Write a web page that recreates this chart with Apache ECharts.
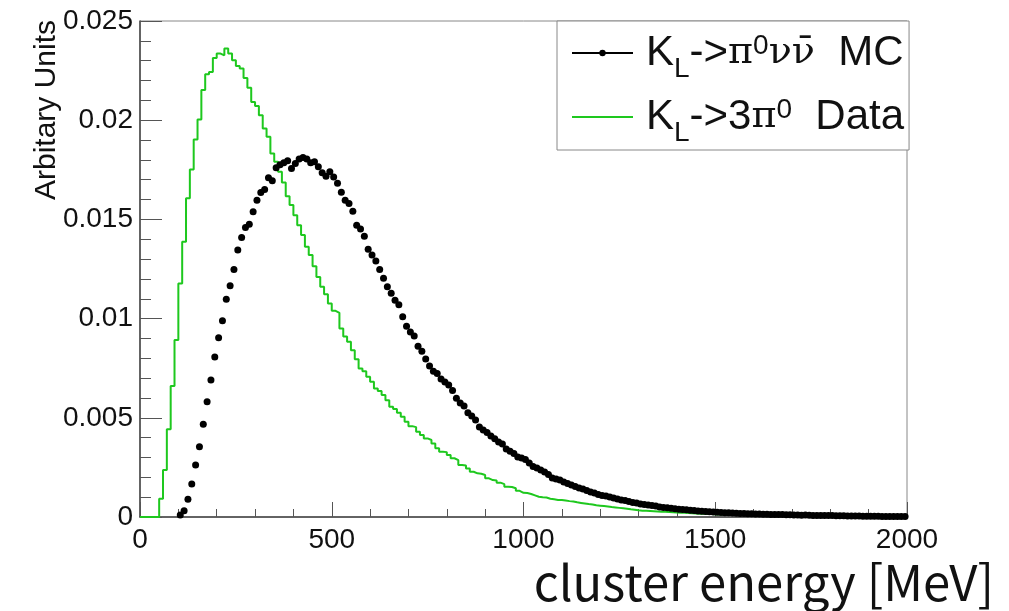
<!DOCTYPE html>
<html><head><meta charset="utf-8">
<script src="https://cdn.jsdelivr.net/npm/echarts@6/dist/echarts.min.js"></script>
<style>html,body{margin:0;padding:0;background:#fff}#c{width:1009px;height:611px}</style>
</head><body><div id="c"></div>
<script>
// Histogram binning: 200 bins of 10 MeV from 0 to 2000 MeV
const binWidth = 10;
const xMin = 0, xMax = 2000, xStep = 500;
const yMin = 0, yMax = 0.025, yStep = 0.005;

const seriesNames = ['KL->pi0nunubar MC', 'KL->3pi0 Data'];
const xTitle = 'cluster energy [MeV]';
const yTitle = 'Arbitary Units';

// K_L -> 3pi0 Data (green histogram), bin contents, bins 0..199
const dataValues = [
0,0,0,0,0,0.00092,0.00237,0.00442,0.0066,0.00892,
0.01177,0.01387,0.01606,0.01751,0.01903,0.02004,0.02152,0.02232,0.02243,0.02314,
0.02336,0.02327,0.02361,0.02336,0.02302,0.02273,0.0226,0.02213,0.02163,0.02092,
0.02072,0.02025,0.01958,0.01916,0.01832,0.01791,0.0174,0.01686,0.01617,0.01572,
0.01521,0.01471,0.01421,0.01362,0.0132,0.01264,0.0121,0.0116,0.01123,0.01076,
0.01039,0.01029,0.0095,0.0091,0.00883,0.00841,0.00795,0.00749,0.00735,0.00707,
0.00682,0.00648,0.00635,0.00615,0.00589,0.00556,0.00544,0.00525,0.00505,0.0048,
0.00458,0.00453,0.0043,0.00413,0.00396,0.00388,0.00371,0.00346,0.00329,0.00327,
0.00312,0.00296,0.00287,0.00262,0.0026,0.00245,0.00228,0.0022,0.00218,0.00212,
0.00195,0.00186,0.00184,0.00173,0.00166,0.00153,0.00151,0.00145,0.00132,0.00122,
0.00121,0.00116,0.00109,0.00102,0.00099,0.00098,0.00092,0.00089,0.00086,0.00086,
0.00083,0.0008,0.00078,0.00074,0.00071,0.00068,0.00065,0.00063,0.00059,0.00057,
0.00055,0.00053,0.0005,0.00048,0.00046,0.00044,0.00042,0.00039,0.00037,0.00034,
0.00032,0.00031,0.0003,0.00029,0.00028,0.00027,0.00026,0.00025,0.00024,0.00023,
0.00022,0.00021,0.0002,0.00019,0.00018,0.00017,0.00016,0.00015,0.00015,0.00014,
0.00013,0.00013,0.00012,0.00011,0.00011,0.0001,0.0001,0.0001,0.00009,0.00009,
0.00009,0.00008,0.00008,0.00008,0.00007,0.00007,0.00007,0.00006,0.00006,0.00006,
0.00006,0.00005,0.00005,0.00005,0.00005,0.00004,0.00004,0.00004,0.00004,0.00004,
0.00003,0.00003,0.00003,0.00003,0.00003,0.00003,0.00003,0.00002,0.00002,0.00002,
0.00002,0.00002,0.00002,0.00002,0.00002,0.00002,0.00002,0.00001,0.00002,0.00001
];

// K_L -> pi0 nu nubar MC (black points), bin contents, bins 0..199 (null = not drawn)
const mcValues = [
null,null,null,null,null,null,null,null,null,null,
0.0001,0.00032,0.00089,0.00166,0.00262,0.00354,0.00467,0.00581,0.0069,0.00807,
0.00903,0.00989,0.01097,0.01165,0.01248,0.01346,0.01409,0.01459,0.01475,0.01538,
0.01597,0.01636,0.01651,0.0171,0.01695,0.0176,0.01775,0.01785,0.01795,0.01757,
0.01782,0.01805,0.01812,0.01805,0.01785,0.0179,0.01765,0.01735,0.01718,0.0174,
0.01714,0.01682,0.01637,0.01597,0.0158,0.01541,0.01471,0.01451,0.01415,0.0135,
0.0132,0.0129,0.01247,0.01204,0.01161,0.01128,0.01093,0.0107,0.01009,0.00962,
0.00932,0.00912,0.00861,0.00836,0.00796,0.00761,0.00735,0.00723,0.00695,0.0068,
0.00665,0.00637,0.00599,0.00574,0.00559,0.00526,0.00509,0.00489,0.00453,0.00438,
0.00426,0.00408,0.00395,0.00378,0.00368,0.00343,0.00332,0.0032,0.00302,0.00297,
0.0029,0.00272,0.00254,0.00247,0.00237,0.00227,0.00214,0.00196,0.00191,0.00186,
0.00176,0.00169,0.00161,0.00154,0.00146,0.00141,0.00133,0.00126,0.00121,0.00113,
0.00108,0.00106,0.00101,0.00096,0.00091,0.00086,0.00083,0.00078,0.00073,0.00071,
0.00065,0.00063,0.0006,0.00058,0.00055,0.0005,0.00048,0.00046,0.00044,0.00041,
0.00039,0.00038,0.00036,0.00034,0.00033,0.0003,0.00029,0.00028,0.00026,0.00025,
0.00024,0.00023,0.00022,0.00021,0.0002,0.00019,0.00018,0.00018,0.00017,0.00016,
0.00015,0.00015,0.00014,0.00014,0.00013,0.00013,0.00012,0.00012,0.00011,0.00011,
0.0001,0.0001,0.00009,0.0001,0.00009,0.00008,0.00008,0.00008,0.00007,0.00007,
0.00007,0.00006,0.00006,0.00006,0.00005,0.00005,0.00005,0.00005,0.00004,0.00004,
0.00004,0.00004,0.00004,0.00003,0.00003,0.00003,0.00003,0.00003,0.00003,0.00002
];

// Build plot data from bins
const stepData = dataValues.map((v, i) => [i * binWidth, v]);
stepData.push([dataValues.length * binWidth, dataValues[dataValues.length - 1]]);
const pointData = mcValues.map((v, i) => [i * binWidth + binWidth / 2, v]);

const legendRich = {
  m: { fontFamily: 'Liberation Sans', fontSize: 42, lineHeight: 42, color: '#111' },
  g: { fontFamily: 'DejaVu Serif', fontSize: 38, lineHeight: 42, color: '#111' },
  sub: { fontFamily: 'Liberation Sans', fontSize: 28, lineHeight: 28, padding: [32, 0, 0, 0], color: '#111' },
  sup: { fontFamily: 'Liberation Sans', fontSize: 28, lineHeight: 28, padding: [0, 0, 14, 0], color: '#111' }
};
const legendLabels = {
  'KL->pi0nunubar MC': '{m|K}{sub|L}{m|->}{g|\u03C0}{sup|0}{g|\u03BD\u03BD\u0304}{m|  MC}',
  'KL->3pi0 Data': '{m|K}{sub|L}{m|->3}{g|\u03C0}{sup|0}{m|  Data}'
};

const chart = echarts.init(document.getElementById('c'), null, { renderer: 'canvas' });
chart.setOption({
  animation: false,
  backgroundColor: '#fff',
  grid: { left: 140, top: 21, width: 767, height: 496, outerBoundsMode: 'none', containLabel: false,
          show: true, borderColor: '#888', borderWidth: 1, backgroundColor: 'transparent' },
  xAxis: {
    type: 'value', min: xMin, max: xMax, interval: xStep,
    name: xTitle, nameLocation: 'end', nameGap: 87,
    nameTextStyle: { fontFamily: 'Noto Sans CJK JP', fontSize: 49, color: '#111', align: 'right', verticalAlign: 'top', padding: [41, 0, 0, 0] },
    axisLine: { onZero: false, lineStyle: { color: '#444', width: 1.5 } },
    axisTick: { inside: true, length: 15, lineStyle: { color: '#555', width: 1 } },
    minorTick: { show: true, splitNumber: 5, length: 8, lineStyle: { color: '#555', width: 1 } },
    splitLine: { show: false },
    axisLabel: { fontFamily: 'Liberation Sans', fontSize: 28, color: '#111', margin: 9, formatter: v => String(v) }
  },
  yAxis: {
    type: 'value', min: yMin, max: yMax, interval: yStep,
    axisLine: { onZero: false, lineStyle: { color: '#444', width: 1.5 } },
    axisTick: { inside: true, length: 22, lineStyle: { color: '#555', width: 1 } },
    minorTick: { show: true, splitNumber: 5, length: 11, lineStyle: { color: '#555', width: 1 } },
    splitLine: { show: false },
    axisLabel: { fontFamily: 'Liberation Sans', fontSize: 28, color: '#111', margin: 7 }
  },
  graphic: [{
    type: 'text', x: 62, y: 20, rotation: Math.PI / 2,
    style: { text: yTitle, fontFamily: 'Liberation Sans', fontSize: 30, fill: '#111', align: 'right', verticalAlign: 'bottom' }
  }],
  legend: {
    left: 557, top: 21, orient: 'vertical',
    itemWidth: 61, itemHeight: 8, itemGap: 4,
    padding: [2, 5, 3, 14],
    backgroundColor: '#fff', borderColor: '#888', borderWidth: 1, borderRadius: 0,
    data: [
      { name: seriesNames[0], lineStyle: { color: '#000', width: 2, opacity: 1 }, itemStyle: { color: '#000' } },
      { name: seriesNames[1], itemStyle: { opacity: 0 } }
    ],
    formatter: n => legendLabels[n],
    textStyle: { padding: [0, 0, 0, 8], rich: legendRich }
  },
  series: [
    {
      name: seriesNames[0], type: 'line', data: pointData,
      symbol: 'circle', symbolSize: 7, showSymbol: true,
      itemStyle: { color: '#000' },
      lineStyle: { opacity: 0, color: '#000' },
      connectNulls: false, z: 3
    },
    {
      name: seriesNames[1], type: 'line', data: stepData, step: 'end',
      symbol: 'none', showSymbol: false,
      lineStyle: { color: '#1ec81e', width: 2 },
      itemStyle: { color: '#1ec81e' }, z: 2
    }
  ]
});
</script>
</body></html>
